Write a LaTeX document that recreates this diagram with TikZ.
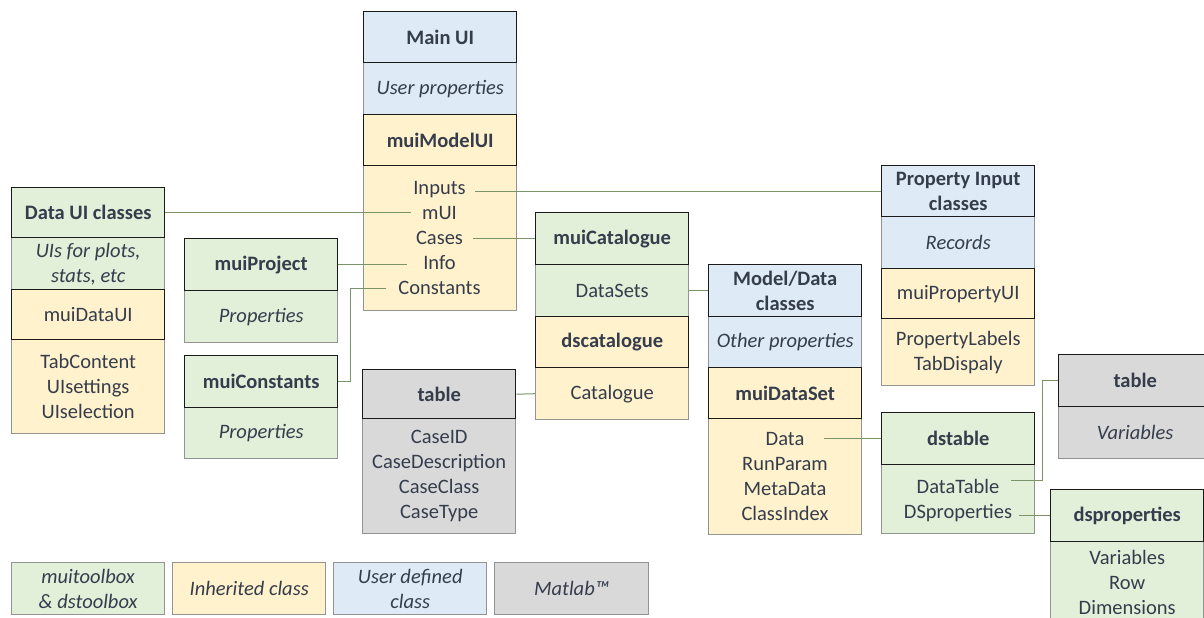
\documentclass[tikz,border=0pt]{standalone}
\usepackage{fontspec}
\setmainfont{Carlito}
\definecolor{bluefill}{HTML}{DEEAF6}
\definecolor{yellowfill}{HTML}{FFF2CC}
\definecolor{greenfill}{HTML}{E2EFD9}
\definecolor{grayfill}{HTML}{D9D9D9}
\definecolor{edgegray}{HTML}{939393}
\definecolor{edgedark}{HTML}{1A1A1A}
\definecolor{txtcol}{HTML}{353D4C}
\definecolor{linkgreen}{HTML}{7A9468}
\tikzset{
  cell/.style={rectangle, anchor=north west, minimum width=153pt, minimum height=52pt,
    inner sep=0pt, align=center, text=txtcol, line width=1.4pt},
  sec/.style={cell, draw=edgegray},
  hdr/.style={cell, draw=edgedark},
  item/.style={inner ysep=0pt, inner xsep=6pt, text=txtcol, text height=13pt, text depth=0pt},
  link/.style={draw=linkgreen, line width=1pt},
}

\begin{document}
\begin{tikzpicture}[x=1pt,y=-1pt,font=\fontsize{20.5}{25}\selectfont]
\useasboundingbox (0,0) rectangle (1204,618);
\clip (0,0) rectangle (1204,618);

% section cells (grey edges)
\node[sec,fill=bluefill] (mainprop) at (363,62) {\textit{User properties}};
\node[sec,fill=yellowfill,minimum height=145pt] (modelbody) at (363,165) {};
\node[sec,fill=greenfill] (duiprop) at (11,237) {\textit{UIs for plots,}\\\textit{stats, etc}};
\node[sec,fill=yellowfill,minimum height=94pt] (duibody) at (11,339) {TabContent\\UIsettings\\UIselection};
\node[sec,fill=greenfill] (projprop) at (184,290) {\textit{Properties}};
\node[sec,fill=greenfill,minimum height=51pt] (constprop) at (184,407) {\textit{Properties}};
\node[sec,fill=greenfill] (catsets) at (535,264) {DataSets};
\node[sec,fill=yellowfill] (dscatbody) at (535,367) {Catalogue};
\node[sec,fill=grayfill,minimum height=115pt] (ltabbody) at (362,418) {CaseID\\CaseDescription\\CaseClass\\CaseType};
\node[sec,fill=bluefill,minimum height=51pt] (mdprop) at (708,316) {\textit{Other properties}};
\node[sec,fill=yellowfill,minimum height=116pt] (dsbody) at (708,418) {};
\node[sec,fill=bluefill] (pirec) at (881,216) {\textit{Records}};
\node[sec,fill=yellowfill,minimum height=67pt] (pibody) at (881,318) {PropertyLabels\\TabDispaly};
\node[sec,fill=greenfill,minimum height=69pt] (dtbody) at (881,464) {};
\node[sec,fill=grayfill] (rtabbody) at (1058,406) {\textit{Variables}};
\node[sec,fill=greenfill,minimum height=82pt] (dspbody) at (1050,541) {Variables\\Row\\Dimensions};

% header cells (dark edges)
\node[hdr,fill=bluefill,minimum height=51pt] (mainhdr) at (363,11) {\textbf{Main UI}};
\node[hdr,fill=yellowfill,minimum height=51pt] (modelhdr) at (363,114) {\textbf{muiModelUI}};
\node[hdr,fill=greenfill,minimum height=50pt] (duihdr) at (11,187) {\textbf{Data UI classes}};
\node[hdr,fill=yellowfill,minimum height=50pt] (duimui) at (11,289) {muiDataUI};
\node[hdr,fill=greenfill] (projhdr) at (184,238) {\textbf{muiProject}};
\node[hdr,fill=greenfill] (consthdr) at (184,355) {\textbf{muiConstants}};
\node[hdr,fill=greenfill] (cathdr) at (535,212) {\textbf{muiCatalogue}};
\node[hdr,fill=yellowfill,minimum height=51pt] (dscathdr) at (535,316) {\textbf{dscatalogue}};
\node[hdr,fill=grayfill,minimum height=49pt] (ltabhdr) at (362,369) {\textbf{table}};
\node[hdr,fill=bluefill] (mdhdr) at (708,264) {\textbf{Model/Data}\\\textbf{classes}};
\node[hdr,fill=yellowfill,minimum height=51pt] (dshdr) at (708,367) {\textbf{muiDataSet}};
\node[hdr,fill=bluefill,minimum height=51pt] (pihdr) at (881,165) {\textbf{Property Input}\\\textbf{classes}};
\node[hdr,fill=yellowfill,minimum height=50pt] (piui) at (881,268) {muiPropertyUI};
\node[hdr,fill=greenfill] (dthdr) at (881,412) {\textbf{dstable}};
\node[hdr,fill=grayfill] (rtabhdr) at (1058,354) {\textbf{table}};
\node[hdr,fill=greenfill] (dsphdr) at (1050,489) {\textbf{dsproperties}};

% property lines
\foreach \t/\n/\s [count=\i] in {Inputs/inputs/9,mUI/mui/11,Cases/cases/10,Info/info/16,Constants/consts/12}
  \node[item,inner xsep=\s pt] (\n) at (439.5,163+25*\i) {\t};
\foreach \t/\s [count=\i] in {Data/19,RunParam/6,MetaData/6,ClassIndex/6}
  \node[item,inner xsep=\s pt] (ds\i) at (785,414+25*\i) {\t};
\node[item,inner xsep=12pt] (dt1) at (958,487) {DataTable};
\node[item,inner xsep=7pt] (dt2) at (958,512) {DSproperties};

% legend
\node[sec,fill=greenfill] (lgtool) at (11,562) {\textit{muitoolbox}\\\textit{\& dstoolbox}};
\node[sec,fill=yellowfill] (lginh) at (172,562) {\textit{Inherited class}};
\node[sec,fill=bluefill] (lguser) at (333,562) {\textit{User defined}\\\textit{class}};
\node[sec,fill=grayfill,minimum width=154pt] (lgmat) at (494,562) {\textit{Matlab™}};

% links
\draw[link] (pihdr.west) -- (pihdr.west -| inputs.east);
\draw[link] (duihdr.east) -- (duihdr.east -| mui.west);
\draw[link] (cathdr.west) -- (cathdr.west -| cases.east);
\draw[link] (projhdr.east) -- (projhdr.east -| info.west);
\draw[link] (consts.west) -- ++(-36,0) |- (consthdr.east);
\draw[link] (catsets.east) -- (mdhdr.west);
\draw[link] (dscatbody.west) -- (ltabhdr.east);
\draw[link] (dthdr.west) -- (dthdr.west -| ds1.east);
\draw[link] (dt1.north east) -- ++(31,0) |- (rtabhdr.west);
\draw[link] (dsphdr.west) -- (dsphdr.west -| dt2.east);
\end{tikzpicture}
\end{document}
